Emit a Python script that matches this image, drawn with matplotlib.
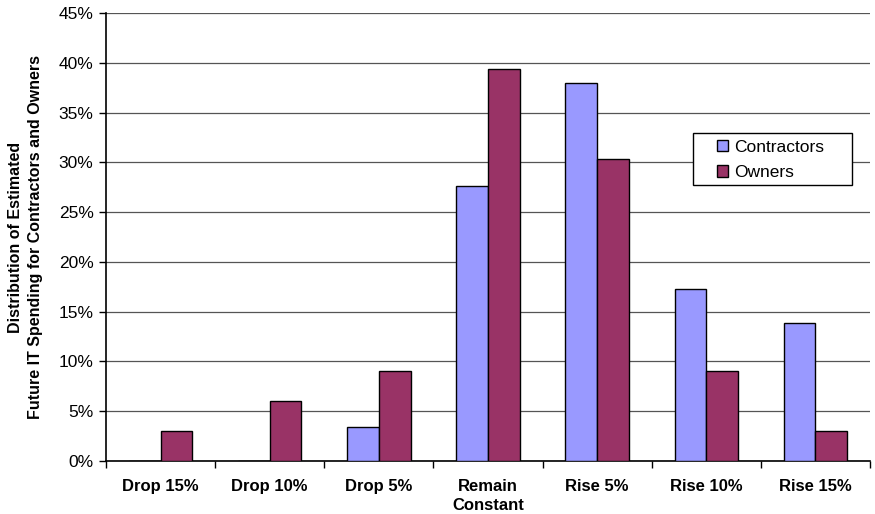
import numpy as np
import matplotlib.pyplot as plt
from matplotlib.patches import Rectangle
from matplotlib.ticker import MultipleLocator, FixedLocator

plt.rcParams['font.family'] = ['Liberation Sans', 'DejaVu Sans']

categories = ['Drop 15%', 'Drop 10%', 'Drop 5%', 'Remain\nConstant',
              'Rise 5%', 'Rise 10%', 'Rise 15%']
contractors = [0.0, 0.0, 3.4, 27.6, 38.0, 17.3, 13.9]
owners = [3.0, 6.0, 9.0, 39.4, 30.3, 9.0, 3.0]

W, H = 875, 514
fig = plt.figure(figsize=(W / 100, H / 100), dpi=100)
ax = fig.add_axes([106 / W, 1 - 461 / H, 764 / W, 448 / H])

x = np.arange(len(categories))
w = 0.29
ax.bar(x - w / 2, contractors, w, color='#9999FF', edgecolor='black',
       linewidth=1.0, label='Contractors', zorder=3)
ax.bar(x + w / 2, owners, w, color='#993366', edgecolor='black',
       linewidth=1.0, label='Owners', zorder=3)

ax.set_xlim(-0.5, len(categories) - 0.5)
ax.set_ylim(0, 45)
ax.yaxis.set_major_locator(MultipleLocator(5))
ax.set_yticklabels([f'{v:.0f}%' for v in ax.get_yticks()])
ax.yaxis.grid(True, color='#555555', linewidth=0.9, zorder=0)

# category labels centred, tick marks between categories
ax.set_xticks(x)
ax.set_xticklabels(categories, fontweight='bold', fontsize=12, linespacing=1.3)
ax.tick_params(axis='x', length=0, pad=13)
ax.xaxis.set_minor_locator(FixedLocator(np.arange(-0.5, len(categories), 1)))
ax.tick_params(axis='x', which='minor', length=5, width=1, direction='out')
ax.tick_params(axis='y', length=5, width=1, direction='out', labelsize=12.5, pad=4)

for s in ['top', 'right']:
    ax.spines[s].set_visible(False)
for s in ['left', 'bottom']:
    ax.spines[s].set_linewidth(1.2)

ax.set_ylabel('Distribution of Estimated\nFuture IT Spending for Contractors and Owners',
              fontweight='bold', fontsize=11.5, linespacing=1.35)
ax.yaxis.set_label_coords(-0.083, 0.5)

# legend box (white, covers the gridline behind it)
def to_ax(px, py):
    return (px - 106) / 764, (461 - py) / 448

x0, y0 = to_ax(693, 185)
x1, y1 = to_ax(852, 133)
ax.add_patch(Rectangle((x0, y0), x1 - x0, y1 - y0, transform=ax.transAxes,
                       facecolor='white', edgecolor='black', linewidth=1.0,
                       clip_on=False, zorder=4))

leg = ax.legend(loc='center left', bbox_to_anchor=to_ax(717, 160),
                frameon=False, fontsize=12.5,
                handlelength=0.66, handleheight=0.66, handletextpad=0.35,
                borderpad=0, labelspacing=0.62, borderaxespad=0)
leg.set_zorder(5)

fig.savefig('out.png', dpi=100)
